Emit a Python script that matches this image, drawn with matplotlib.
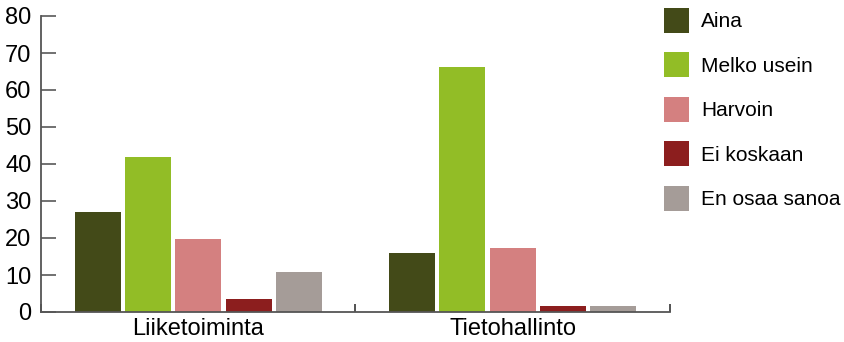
import matplotlib.pyplot as plt
import numpy as np
from matplotlib.patches import Patch

plt.rcParams['font.family'] = ['Liberation Sans', 'DejaVu Sans']

# data
groups = ['Liiketoiminta', 'Tietohallinto']
series = ['Aina', 'Melko usein', 'Harvoin', 'Ei koskaan', 'En osaa sanoa']
values = [
    [27, 16],      # Aina
    [42, 66.3],    # Melko usein
    [19.6, 17.2],  # Harvoin
    [3.4, 1.5],    # Ei koskaan
    [10.7, 1.5],   # En osaa sanoa
]
colors = ['#434a18', '#92bd26', '#d48080', '#8c1e1e', '#a59c98']

fig = plt.figure(figsize=(8.44, 3.42), dpi=100)
ax = fig.add_axes([41/844, 1 - 312/342, (670 - 41)/844, (312 - 16)/342])

x = np.arange(len(groups)) + 0.5
step = 0.16
width = 0.146
for i, (name, vals) in enumerate(zip(series, values)):
    ax.bar(x + (i - 2) * step, vals, width, color=colors[i], label=name, zorder=1)

ax.set_xlim(0, 2)
ax.set_ylim(0, 80)
ax.set_yticks(range(0, 81, 10))
ax.set_xticks(x)
ax.set_xticklabels(groups)
ax.set_xticks([0, 1, 2], minor=True)

for s in ['top', 'right']:
    ax.spines[s].set_visible(False)
for s in ['left', 'bottom']:
    ax.spines[s].set_color('#555555')
    ax.spines[s].set_linewidth(1.3)
    ax.spines[s].set_zorder(3)

ax.tick_params(axis='y', direction='in', length=11, width=1.3, color='#666666',
               labelsize=17, pad=7)
ax.tick_params(axis='x', which='major', length=0, labelsize=17, pad=4)
ax.tick_params(axis='x', which='minor', direction='in', length=6, width=1.3,
               color='#444444')

handles = [Patch(facecolor=c, edgecolor='none') for c in colors]
fig.legend(handles, series, loc='upper left',
           bbox_to_anchor=(664/844, 1 - 8/342), bbox_transform=fig.transFigure,
           frameon=False, fontsize=15, handlelength=1.2, handleheight=1.47,
           labelspacing=0.93, handletextpad=0.58, borderpad=0, borderaxespad=0)

fig.savefig('out.png', dpi=100)
